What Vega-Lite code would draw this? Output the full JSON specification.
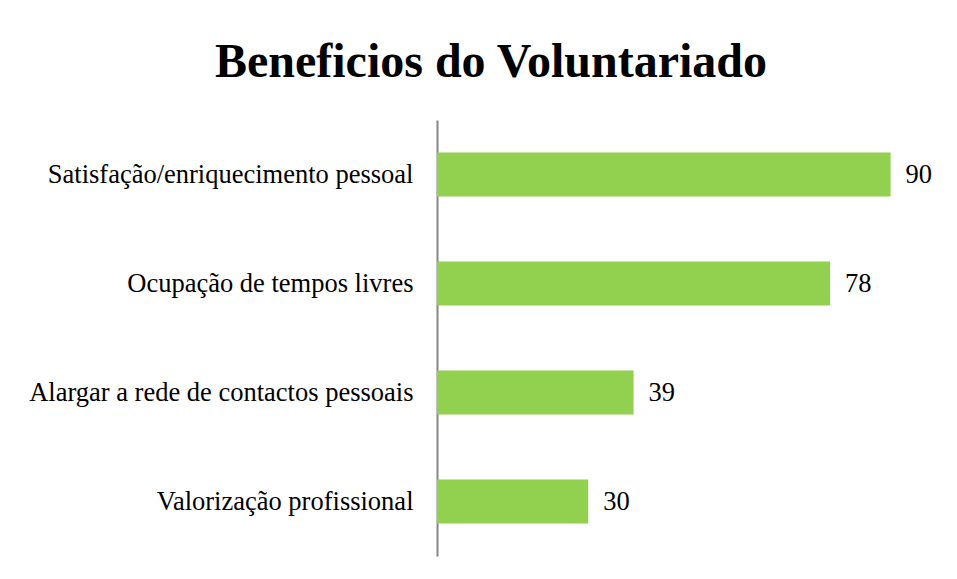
{
  "$schema": "https://vega.github.io/schema/vega-lite/v6.json",
  "autosize": {"type": "none"},
  "padding": {"left": 437, "top": 120, "right": 16, "bottom": 23},
  "width": 504,
  "height": 436,
  "background": "white",
  "config": {
    "view": {"stroke": null},
    "font": "Liberation Serif"
  },
  "title": {
    "text": "Beneficios do Voluntariado",
    "font": "Liberation Serif",
    "fontSize": 48,
    "fontWeight": "bold",
    "color": "black",
    "anchor": "middle",
    "baseline": "alphabetic",
    "offset": 43,
    "dx": -198,
    "dy": 48
  },
  "data": {
    "values": [
      {"categoria": "Satisfação/enriquecimento pessoal", "valor": 90},
      {"categoria": "Ocupação de tempos livres", "valor": 78},
      {"categoria": "Alargar a rede de contactos pessoais", "valor": 39},
      {"categoria": "Valorização profissional", "valor": 30}
    ]
  },
  "encoding": {
    "y": {
      "field": "categoria",
      "type": "nominal",
      "sort": null,
      "scale": {"paddingInner": 0.596, "paddingOuter": 0.298},
      "axis": {
        "title": null,
        "ticks": false,
        "labelPadding": 24,
        "labelFont": "Liberation Serif",
        "labelFontSize": 26.5,
        "labelColor": "black",
        "labelLimit": 500,
        "domainColor": "#868686",
        "domainWidth": 2
      }
    },
    "x": {
      "field": "valor",
      "type": "quantitative",
      "scale": {"domain": [0, 100], "nice": false},
      "axis": null
    }
  },
  "layer": [
    {"mark": {"type": "bar", "color": "#92D050"}},
    {
      "mark": {"type": "text", "align": "left", "dx": 15, "font": "Liberation Serif", "fontSize": 26.5, "color": "black"},
      "encoding": {"text": {"field": "valor", "type": "quantitative"}}
    }
  ]
}
